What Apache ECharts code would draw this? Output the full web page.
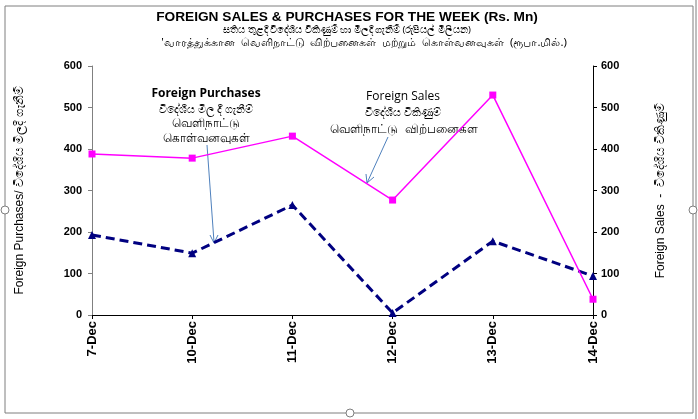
<!DOCTYPE html>
<html lang="en">
<head>
    <meta charset="utf-8">
    <title>Foreign Sales & Purchases</title>
    <script src="https://cdn.jsdelivr.net/npm/echarts@6/dist/echarts.min.js"></script>
    <style>
        html, body { margin: 0; padding: 0; background: #fff; }
        #chart { width: 698px; height: 419px; }
    </style>
</head>
<body>
<div id="chart"></div>
<script type="text/javascript">
    var days = ['7-Dec', '10-Dec', '11-Dec', '12-Dec', '13-Dec', '14-Dec'];
    var salesValues = [388, 378, 431, 277, 530, 38];
    var purchaseValues = [193, 149, 265, 5, 178, 94];

    var chart = echarts.init(document.getElementById('chart'));

    var axisLabelStyle = { color: '#000', fontWeight: 'bold', fontSize: 11, fontFamily: 'Liberation Sans' };

    // one centred line of free text
    function note(x, y, text, size, font, weight) {
        return {
            type: 'text', x: x, y: y, silent: true,
            style: {
                text: text, align: 'center', verticalAlign: 'middle',
                fontSize: size, fontFamily: font, fontWeight: weight || 'normal', fill: '#000'
            }
        };
    }

    var option = {
        animation: false,
        backgroundColor: '#fff',
        grid: { left: 92, right: 105, top: 66, bottom: 104 },
        xAxis: {
            type: 'category',
            data: days,
            boundaryGap: false,
            axisLine: { lineStyle: { color: '#000', width: 1 } },
            axisTick: { show: true, alignWithLabel: true, length: 4, lineStyle: { color: '#000' } },
            axisLabel: Object.assign({}, axisLabelStyle, { rotate: 90, margin: 6, interval: 0, fontSize: 13 }),
            splitLine: { show: false }
        },
        yAxis: [
            {
                type: 'value',
                min: 0, max: 600, interval: 100,
                name: 'Foreign Purchases/ විදේශීය මිලදී ගැනීම්',
                nameLocation: 'middle',
                nameGap: 66,
                nameRotate: 90,
                nameTextStyle: { fontSize: 12, color: '#000', fontFamily: 'Liberation Sans' },
                axisLine: { show: true, lineStyle: { color: '#808080' } },
                axisTick: { show: true, length: 4, lineStyle: { color: '#808080' } },
                axisLabel: Object.assign({ margin: 10 }, axisLabelStyle),
                splitLine: { show: false }
            },
            {
                type: 'value',
                min: 0, max: 600, interval: 100,
                name: 'Foreign Sales  -  විදේශීය විකිණුම්',
                nameLocation: 'middle',
                nameGap: 62,
                nameRotate: 90,
                nameTextStyle: { fontSize: 12, color: '#000', fontFamily: 'Liberation Sans' },
                axisLine: { show: true, lineStyle: { color: '#000' } },
                axisTick: { show: true, length: 4, lineStyle: { color: '#000' } },
                axisLabel: Object.assign({ margin: 8 }, axisLabelStyle),
                splitLine: { show: false }
            }
        ],
        series: [
            {
                name: 'Foreign Sales',
                type: 'line',
                data: salesValues,
                symbol: 'rect',
                symbolSize: 7,
                lineStyle: { color: '#FF00FF', width: 1.5 },
                itemStyle: { color: '#FF00FF' },
                z: 3
            },
            {
                name: 'Foreign Purchases',
                type: 'line',
                data: purchaseValues,
                symbol: 'triangle',
                symbolSize: 8,
                lineStyle: { color: '#000080', width: 3, type: [9, 5] },
                itemStyle: { color: '#000080' },
                z: 2
            }
        ],
        graphic: [
            // outer frame
            { type: 'rect', shape: { x: 5, y: 6, width: 688, height: 407 }, style: { fill: 'none', stroke: '#7f7f7f', lineWidth: 1 }, silent: true },
            { type: 'line', shape: { x1: 696, y1: 0, x2: 696, y2: 419 }, style: { stroke: '#7f7f7f', lineWidth: 1 } },
            { type: 'circle', shape: { cx: 5, cy: 210, r: 4 }, style: { fill: '#fff', stroke: '#7f7f7f' } },
            { type: 'circle', shape: { cx: 693, cy: 210, r: 4 }, style: { fill: '#fff', stroke: '#7f7f7f' } },
            { type: 'circle', shape: { cx: 350, cy: 413, r: 4 }, style: { fill: '#fff', stroke: '#7f7f7f' } },
            // title
            note(347, 17, 'FOREIGN SALES & PURCHASES FOR THE WEEK (Rs. Mn)', 13.7, 'Liberation Sans', 'bold'),
            note(347, 30, 'සතිය තුළදී විදේශීය විකිණුම් හා මිලදී ගැනීම් (රුපියල් මිලියන)', 9.5, 'Noto Sans'),
            note(364, 43, '\'வாரத்துக்கான  வெளிநாட்டு  விற்பனைகள்  மற்றும்  கொள்வனவுகள்  (ரூபா.மில்.)', 11.3, 'Noto Sans'),
            // purchases note
            note(206, 94, 'Foreign Purchases', 12, 'Open Sans', 'bold'),
            note(206, 110, 'විදේශීය මිල දී ගැනීම්', 11, 'Noto Sans'),
            note(206, 124, 'வெளிநாட்டு', 12, 'Noto Sans'),
            note(206, 139, 'கொள்வனவுகள்', 12, 'Noto Sans'),
            {
                type: 'line', shape: { x1: 207, y1: 145, x2: 214, y2: 242 },
                style: { stroke: '#4f81bd', lineWidth: 1 }
            },
            {
                type: 'polyline', shape: { points: [[210, 235], [214, 243], [218, 235]] },
                style: { stroke: '#4f81bd', lineWidth: 1, fill: 'none' }
            },
            // sales note
            note(403, 97, 'Foreign Sales', 12, 'Open Sans'),
            note(403, 113, 'විදේශීය විකිණුම්', 11, 'Noto Sans'),
            note(404, 130, 'வெளிநாட்டு  விற்பனைகள', 12, 'Noto Sans'),
            {
                type: 'line', shape: { x1: 388, y1: 137, x2: 367, y2: 183 },
                style: { stroke: '#4f81bd', lineWidth: 1 }
            },
            {
                type: 'polyline', shape: { points: [[366, 174], [367, 183], [374, 177]] },
                style: { stroke: '#4f81bd', lineWidth: 1, fill: 'none' }
            }
        ]
    };

    chart.setOption(option);
</script>
</body>
</html>
